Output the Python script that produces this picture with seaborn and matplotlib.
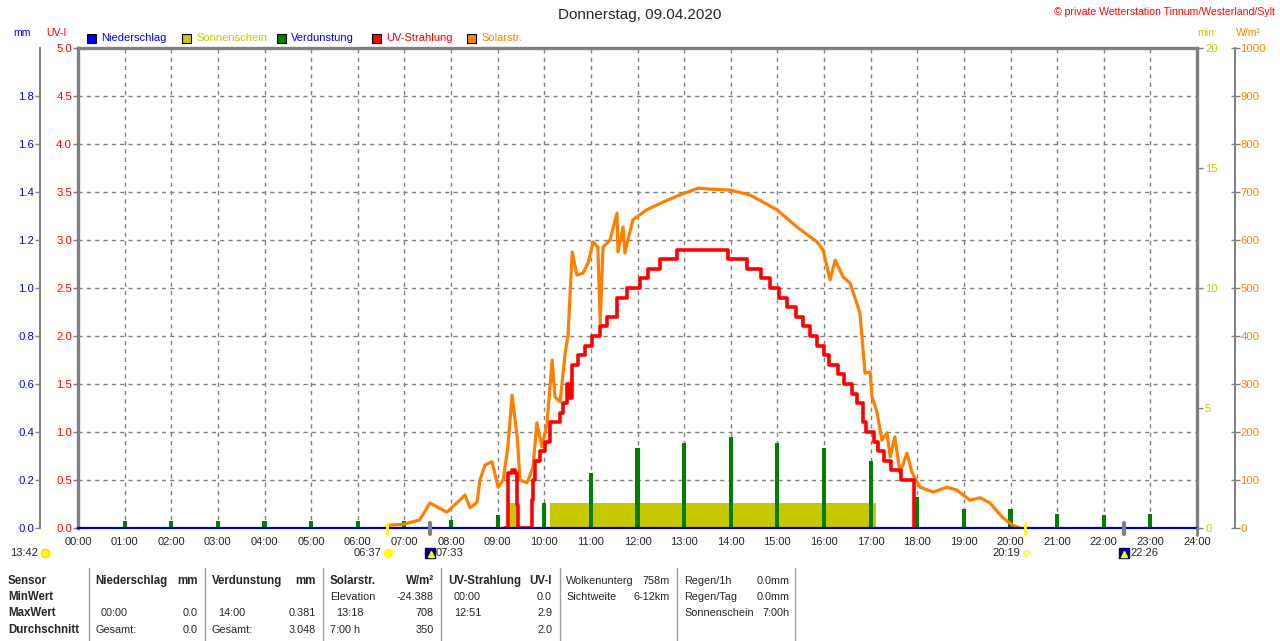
import numpy as np
import pandas as pd
import matplotlib
matplotlib.use("Agg")
import matplotlib.pyplot as plt
import seaborn as sns
from matplotlib.patches import Rectangle
from matplotlib.lines import Line2D

title = "Donnerstag, 09.04.2020"
credit = "\u00a9 private Wetterstation Tinnum/Westerland/Sylt"

# Solarstrahlung W/m2 (time in hours)
solar_h = [6.62, 6.69, 7.0, 7.33, 7.55, 7.91, 8.19, 8.30, 8.41, 8.56,
           8.62, 8.73, 8.88, 9.01, 9.12, 9.22, 9.31, 9.42, 9.48, 9.63,
           9.76, 9.84, 9.95, 10.06, 10.17, 10.23, 10.34, 10.45, 10.51, 10.60,
           10.70, 10.83, 10.94, 11.05, 11.15, 11.20, 11.26, 11.41, 11.56, 11.58,
           11.69, 11.73, 11.90, 12.20, 12.55, 12.91, 13.30, 13.56, 13.98, 14.41,
           14.99, 15.42, 15.85, 15.98, 16.13, 16.24, 16.41, 16.56, 16.66, 16.77,
           16.82, 16.88, 16.99, 17.03, 17.14, 17.24, 17.35, 17.42, 17.52, 17.63,
           17.78, 17.89, 18.06, 18.34, 18.64, 18.85, 19.13, 19.35, 19.56, 19.84,
           20.05, 20.20]
solar_w = [0, 6, 8, 17, 52, 33, 58, 69, 42, 54,
           100, 131, 138, 85, 100, 169, 277, 190, 100, 94,
           127, 219, 169, 219, 350, 273, 263, 365, 402, 575,
           527, 531, 552, 596, 585, 427, 585, 600, 656, 575,
           627, 573, 642, 663, 679, 694, 708, 706, 704, 694,
           663, 627, 596, 579, 517, 558, 523, 510, 481, 448,
           392, 323, 325, 273, 240, 183, 198, 148, 190, 115,
           156, 115, 85, 75, 85, 79, 58, 63, 52, 21,
           6, 0]

# UV-Strahlung UV-I
uv_h = [9.16, 9.22, 9.31, 9.37, 9.42, 9.44, 9.69, 9.74, 9.76, 9.80,
        9.91, 10.02, 10.12, 10.34, 10.40, 10.49, 10.55, 10.60, 10.72, 10.87,
        11.02, 11.20, 11.35, 11.56, 11.77, 12.05, 12.23, 12.48, 12.85, 13.94,
        14.35, 14.65, 14.84, 15.03, 15.21, 15.40, 15.55, 15.70, 15.85, 16.00,
        16.11, 16.30, 16.43, 16.60, 16.71, 16.84, 16.91, 17.08, 17.16, 17.29,
        17.44, 17.65, 17.93]
uv_i = [0.0, 0.57, 0.6, 0.57, 0.24, 0.0, 0.0, 0.29, 0.5, 0.7,
        0.8, 0.9, 1.1, 1.2, 1.3, 1.5, 1.35, 1.7, 1.8, 1.9,
        2.0, 2.1, 2.2, 2.4, 2.5, 2.6, 2.7, 2.8, 2.9, 2.8,
        2.7, 2.6, 2.5, 2.4, 2.3, 2.2, 2.1, 2.0, 1.9, 1.8,
        1.7, 1.6, 1.5, 1.4, 1.3, 1.1, 1.0, 0.9, 0.8, 0.7,
        0.6, 0.5, 0.0]

# Verdunstung mm (hourly)
evap_h = list(range(1, 24))
evap_mm = [0.03, 0.03, 0.03, 0.03, 0.03, 0.03, 0.03, 0.035, 0.054, 0.104,
           0.229, 0.333, 0.354, 0.381, 0.354, 0.333, 0.28, 0.129, 0.079, 0.079,
           0.058, 0.054, 0.058]

# Sonnenschein min
sun_start = [9.20, 10.12]
sun_end = [9.44, 17.11]
sun_min = [1.05, 1.05]

# sun / moon events
sunrise, sunset = 6 + 37 / 60, 20 + 19 / 60
moonrise, moonset = 7 + 33 / 60, 22 + 26 / 60
sunrise_lbl, sunset_lbl = "06:37", "20:19"
moonrise_lbl, moonset_lbl = "07:33", "22:26"
daylen_lbl = "13:42"

legend_names = ["Niederschlag", "Sonnenschein", "Verdunstung", "UV-Strahlung", "Solarstr."]
legend_box = ["#0000ff", "#c8c800", "#008000", "#ff0000", "#ff8000"]
legend_txt = ["#0000ff", "#c8c800", "#0000ff", "#ff0000", "#ff8000"]

# summary table
row_names = ["Sensor", "MinWert", "MaxWert", "Durchschnitt"]
col_heads = [("Niederschlag", "mm"), ("Verdunstung", "mm"), ("Solarstr.", "W/m\u00b2"),
             ("UV-Strahlung", "UV-I")]
col_left = [[None, ("00:00", "0.0"), ("Gesamt:", "0.0")],
            [None, ("14:00", "0.381"), ("Gesamt:", "3.048")],
            [("Elevation", "-24.388"), ("13:18", "708"), ("7:00 h", "350")],
            [("00:00", "0.0"), ("12:51", "2.9"), ("", "2.0")]]
extra1 = [("Wolkenunterg", "758m"), ("Sichtweite", "6-12km")]
extra2 = [("Regen/1h", "0.0mm"), ("Regen/Tag", "0.0mm"), ("Sonnenschein", "7:00h")]

sns.set_style("white")
plt.rcParams["font.family"] = ["Liberation Sans", "DejaVu Sans"]
FS = 7.6
FSB = 8.3
GRAY = "#808080"
W, H = 1280, 641


def fx(x):
    return x / W


def fy(y):
    return 1 - y / H


def pt(px):
    return px * 0.72


fig = plt.figure(figsize=(12.8, 6.41), dpi=100)
rect = [fx(78), fy(528), (1197 - 78) / W, 480 / H]
ax_min = fig.add_axes(rect)
ax_mm = ax_min.twinx()
ax_w = ax_min.twinx()
ax = ax_min.twinx()
for i, a in enumerate([ax_min, ax_mm, ax_w, ax]):
    a.set_zorder(i + 1)
    for s in a.spines.values():
        s.set_visible(False)
    a.set_xlim(0, 24)
    if i > 0:
        a.patch.set_visible(False)

ax.set_ylim(0, 5)
ax_mm.set_ylim(0, 2)
ax_min.set_ylim(0, 20)
ax_w.set_ylim(0, 1000)

# grid
uv_grid = np.arange(0.5, 5.0, 0.5)
ax_min.hlines(uv_grid, 0, 24, colors=GRAY, linestyles=(0, (3, 3)), linewidth=1,
              transform=ax.transData, zorder=0)
ax_min.vlines(np.arange(1, 24), 0, 5, colors=GRAY, linestyles=(0, (3, 3)), linewidth=1,
              transform=ax.transData, zorder=0)

# sunshine
ax_min.bar(sun_start, sun_min, width=np.array(sun_end) - np.array(sun_start),
           align="edge", color="#c8c800", linewidth=0, zorder=2)

# evaporation
ax_mm.bar(evap_h, evap_mm, width=0.09, color="#008000", linewidth=0)

# solar radiation
df_solar = pd.DataFrame({"h": solar_h, "w": solar_w})
sns.lineplot(data=df_solar, x="h", y="w", ax=ax_w, color="#ff8000", linewidth=2.3,
             estimator=None, legend=False)

# UV
df_uv = pd.DataFrame({"h": uv_h, "uv": uv_i})
sns.lineplot(data=df_uv, x="h", y="uv", ax=ax, color="#ff0000", linewidth=2.6,
             estimator=None, drawstyle="steps-post", legend=False)

for a in [ax_min, ax_mm, ax_w, ax]:
    a.set_xlim(0, 24)
    a.set_xlabel("")
    a.set_ylabel("")

# frame
ax.spines["left"].set_visible(True)
ax.spines["top"].set_visible(True)
for k in ["left", "top"]:
    ax.spines[k].set_color(GRAY)
    ax.spines[k].set_linewidth(2.4)
ax_min.spines["right"].set_visible(True)
ax_min.spines["right"].set_color(GRAY)
ax_min.spines["right"].set_linewidth(2.4)
ax.spines["bottom"].set_visible(True)
ax.spines["bottom"].set_color("#0000c8")
ax.spines["bottom"].set_linewidth(1.6)

# x axis (on the base axes)
ax_min.set_xticks(range(25))
ax_min.set_xticklabels([f"{h:02d}:00" for h in range(25)], fontsize=FS + 0.4)
ax_min.tick_params(axis="x", bottom=True, labelbottom=True, length=0, pad=pt(9))
for a in [ax_mm, ax_w, ax]:
    a.tick_params(axis="x", bottom=False, labelbottom=False, top=False)

# UV axis (left)
ax.yaxis.tick_left()
ax.set_yticks(np.arange(0, 5.01, 0.5))
ax.set_yticklabels([f"{v:.1f}" for v in np.arange(0, 5.01, 0.5)], fontsize=FS + 0.6)
ax.tick_params(axis="y", length=pt(5), color=GRAY, width=1, pad=pt(1), labelcolor="#ff0000")

# mm axis (left, outer)
ax_mm.yaxis.tick_left()
ax_mm.spines["left"].set_visible(True)
ax_mm.spines["left"].set_position(("outward", pt(38)))
ax_mm.spines["left"].set_color(GRAY)
ax_mm.spines["left"].set_linewidth(1.4)
ax_mm.set_yticks(np.arange(0, 1.81, 0.2))
ax_mm.set_yticklabels([f"{v:.1f}" for v in np.arange(0, 1.81, 0.2)], fontsize=FS + 0.6)
ax_mm.tick_params(axis="y", length=pt(5), color=GRAY, width=1, pad=pt(1), labelcolor="#0000ff")

# min axis (right)
ax_min.yaxis.tick_right()
ax_min.set_yticks([0, 5, 10, 15, 20])
ax_min.set_yticklabels(["0", "5", "10", "15", "20"], fontsize=FS + 0.6)
ax_min.tick_params(axis="y", length=pt(6), color=GRAY, width=1, pad=pt(2), labelcolor="#c8c800")

# W/m2 axis (right, outer)
ax_w.yaxis.tick_right()
ax_w.spines["right"].set_visible(True)
ax_w.spines["right"].set_position(("outward", pt(38)))
ax_w.spines["right"].set_color(GRAY)
ax_w.spines["right"].set_linewidth(1.4)
ax_w.set_yticks(np.arange(0, 1001, 100))
ax_w.set_yticklabels([str(v) for v in range(0, 1001, 100)], fontsize=FS + 0.6)
ax_w.tick_params(axis="y", direction="inout", length=pt(9), color=GRAY, width=1, pad=pt(1),
                 labelcolor="#ff8000")

# headers
fig.text(0.5, fy(15), title, ha="center", va="center", fontsize=11)
fig.text(fx(1275), fy(12), credit, ha="right", va="center", fontsize=FS, color="#ff0000")
fig.text(fx(22), fy(33), "mm", ha="center", va="center", fontsize=FS, color="#0000ff")
fig.text(fx(56), fy(33), "UV-I", ha="center", va="center", fontsize=FS, color="#ff0000")
fig.text(fx(1206), fy(33), "min", ha="center", va="center", fontsize=FS, color="#c8c800")
fig.text(fx(1248), fy(33), "W/m\u00b2", ha="center", va="center", fontsize=FS, color="#ff8000")

box_x = [87, 182, 277, 372, 467]
for bx, name, bc, tc in zip(box_x, legend_names, legend_box, legend_txt):
    fig.patches.append(Rectangle((fx(bx), fy(43)), 9 / W, 9 / H, facecolor=bc,
                                 edgecolor="black", linewidth=0.8, transform=fig.transFigure))
    fig.text(fx(bx + 14), fy(38), name, ha="left", va="center", fontsize=FS + 0.4, color=tc)

# sun / moon markers below the axis
for t, c, lw in [(sunrise, "#ffff00", 2), (sunset, "#ffff00", 2), (moonrise, GRAY, 3), (moonset, GRAY, 3)]:
    ax.add_line(Line2D([t, t], [-0.06, 0.05], color=c, linewidth=lw, clip_on=False, zorder=6))
ax.add_line(Line2D([24, 24], [-0.07, 0], color=GRAY, linewidth=2, clip_on=False, zorder=6))

fig.text(fx(38), fy(553), daylen_lbl, ha="right", va="center", fontsize=FS + 0.4)
fig.add_artist(Line2D([fx(45)], [fy(553)], marker="o", markersize=6, color="#ffff00",
                      markeredgecolor="#ffd000"))
for t, lbl in [(sunrise, sunrise_lbl), (sunset, sunset_lbl)]:
    xp = 78 + t * (1119 / 24)
    fig.text(fx(xp - 5), fy(553), lbl, ha="right", va="center", fontsize=FS + 0.4)
    fig.add_artist(Line2D([fx(xp + 1)], [fy(553)], marker="o", markersize=6 if t < 12 else 4,
                          color="#ffff00" if t < 12 else "white", markeredgecolor="#ffff00"))
for t, lbl in [(moonrise, moonrise_lbl), (moonset, moonset_lbl)]:
    xp = 78 + t * (1119 / 24)
    fig.add_artist(Line2D([fx(xp)], [fy(553)], marker="s", markersize=7.5, color="#000080"))
    fig.add_artist(Line2D([fx(xp + 0.5)], [fy(554)], marker="^", markersize=4, color="#ffff00"))
    fig.text(fx(xp + 6), fy(553), lbl, ha="left", va="center", fontsize=FS + 0.4)

# summary table
rows_y = [581, 597, 613, 630]
for rn, yy in zip(row_names, rows_y):
    fig.text(fx(8), fy(yy), rn, ha="left", va="center", fontsize=FSB, fontweight="bold")
col_x = [(95, 198), (212, 316), (330, 434), (448, 552)]
for (x0, x1), (hd, unit), cells in zip(col_x, col_heads, col_left):
    fig.text(fx(x0), fy(rows_y[0]), hd, ha="left", va="center", fontsize=FSB, fontweight="bold")
    fig.text(fx(x1), fy(rows_y[0]), unit, ha="right", va="center", fontsize=FSB, fontweight="bold")
    for cell, yy in zip(cells, rows_y[1:]):
        if cell is None:
            continue
        left, right = cell
        indent = 6 if ":" in left and left[0].isdigit() and left[1].isdigit() else 0
        fig.text(fx(x0 + indent), fy(yy), left, ha="left", va="center", fontsize=FS + 0.2)
        fig.text(fx(x1), fy(yy), right, ha="right", va="center", fontsize=FS + 0.2)
for (left, right), yy in zip(extra1, rows_y):
    fig.text(fx(566), fy(yy), left, ha="left", va="center", fontsize=FS + 0.2)
    fig.text(fx(670), fy(yy), right, ha="right", va="center", fontsize=FS + 0.2)
for (left, right), yy in zip(extra2, rows_y):
    fig.text(fx(684), fy(yy), left, ha="left", va="center", fontsize=FS + 0.2)
    fig.text(fx(790), fy(yy), right, ha="right", va="center", fontsize=FS + 0.2)
for sx in [89, 205, 323, 441, 560, 677, 795]:
    fig.add_artist(Line2D([fx(sx), fx(sx)], [fy(568), fy(641)], color="#a0a0a0", linewidth=1))

fig.savefig("out.png", dpi=100)
